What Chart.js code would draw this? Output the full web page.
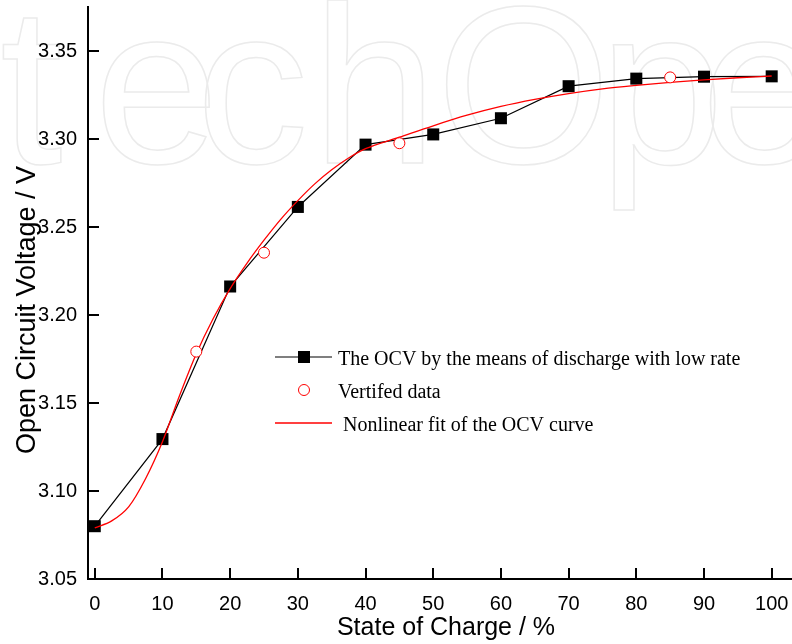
<!DOCTYPE html>
<html>
<head>
<meta charset="utf-8">
<title>OCV vs State of Charge</title>
<script src="https://cdn.jsdelivr.net/npm/chart.js@4.4.1/dist/chart.umd.min.js"></script>
<style>
    html, body { margin: 0; padding: 0; background: #fff; }
    canvas { display: block; }
</style>
</head>
<body>
<canvas id="ocvChart" width="792" height="644"></canvas>
<script>
// measured OCV (discharge with low rate)
const socPoints = [0, 10, 20, 30, 40, 50, 60, 70, 80, 90, 100];
const ocvValues = [3.080, 3.1295, 3.2162, 3.2614, 3.2968, 3.3026, 3.3118, 3.3300, 3.3343, 3.3354, 3.3356];

// verification points
const verifiedSoc = [15, 25, 45, 85];
const verifiedOcv = [3.1792, 3.2354, 3.2976, 3.3350];

// nonlinear fit curve
const fitSoc = [0, 2.5, 5, 7.5, 10, 12.5, 15, 17.5, 20, 22.5, 25, 27.5, 30, 32.5, 35, 37.5, 40, 45, 50, 55, 60, 65, 70, 75, 80, 85, 90, 95, 100];
const fitOcv = [3.079, 3.083, 3.091, 3.107, 3.128, 3.154, 3.178, 3.198, 3.215, 3.2295, 3.2425, 3.2545, 3.2650, 3.2745, 3.2825, 3.2892, 3.2945, 3.3010, 3.3075, 3.3135, 3.3185, 3.3225, 3.3258, 3.3285, 3.3305, 3.3322, 3.3336, 3.3348, 3.3358];

const seriesLabels = [
    'The OCV by the means of discharge with low rate',
    'Vertifed data',
    'Nonlinear fit of the OCV curve'
];

const xTicks = [0, 10, 20, 30, 40, 50, 60, 70, 80, 90, 100];
const yTicks = [3.05, 3.10, 3.15, 3.20, 3.25, 3.30, 3.35];
const xTitle = 'State of Charge / %';
const yTitle = 'Open Circuit Voltage / V';

const sans = '"Liberation Sans", Arial, Helvetica, sans-serif';
const serif = '"Liberation Serif", "Times New Roman", serif';

// faint publisher watermark behind the plot
const watermark = {
    id: 'watermark',
    beforeDraw(chart) {
        const ctx = chart.ctx;
        ctx.save();
        ctx.font = '225px ' + sans;
        ctx.strokeStyle = '#ebebeb';
        ctx.lineWidth = 1.5;
        const letters = [['t', 0], ['e', 94], ['c', 196], ['h', 312], ['O', 436], ['p', 599], ['e', 701]];
        letters.forEach(([ch, x]) => ctx.strokeText(ch, x, 163));
        ctx.restore();
    }
};

// inward tick marks + axis titles
const axisDecor = {
    id: 'axisDecor',
    afterDraw(chart) {
        const { ctx, chartArea } = chart;
        const xs = chart.scales.x, ys = chart.scales.y;
        ctx.save();
        ctx.strokeStyle = '#000';
        ctx.lineWidth = 2;
        ctx.beginPath();
        xs.ticks.forEach(t => {
            const px = Math.round(xs.getPixelForValue(t.value));
            ctx.moveTo(px, chartArea.bottom);
            ctx.lineTo(px, chartArea.bottom - 11);
        });
        ys.ticks.forEach(t => {
            const py = Math.round(ys.getPixelForValue(t.value));
            ctx.moveTo(chartArea.left, py);
            ctx.lineTo(chartArea.left + 11, py);
        });
        ctx.stroke();

        ctx.fillStyle = '#000';
        ctx.textBaseline = 'alphabetic';
        ctx.textAlign = 'center';
        ctx.font = '25px ' + sans;
        ctx.fillText(xTitle, 446, 635);

        ctx.translate(35, 310);
        ctx.rotate(-Math.PI / 2);
        ctx.font = '27px ' + sans;
        ctx.fillText(yTitle, 0, 0);
        ctx.restore();
    }
};

// legend drawn inside the plot area
const innerLegend = {
    id: 'innerLegend',
    afterDraw(chart) {
        const ctx = chart.ctx;
        const rows = [
            { y: 357, textX: 338 },
            { y: 390, textX: 338 },
            { y: 423, textX: 343 }
        ];
        ctx.save();
        ctx.font = '20px ' + serif;
        ctx.fillStyle = '#000';
        ctx.textBaseline = 'alphabetic';
        ctx.textAlign = 'left';

        // row 1: black line with square
        ctx.strokeStyle = '#000';
        ctx.lineWidth = 1.2;
        ctx.beginPath();
        ctx.moveTo(275, rows[0].y);
        ctx.lineTo(332, rows[0].y);
        ctx.stroke();
        ctx.fillRect(298, rows[0].y - 6, 12, 12);

        // row 2: open red circle
        ctx.strokeStyle = '#ff0000';
        ctx.lineWidth = 1;
        ctx.beginPath();
        ctx.arc(304, rows[1].y, 5.5, 0, Math.PI * 2);
        ctx.stroke();

        // row 3: red line
        ctx.lineWidth = 1.3;
        ctx.beginPath();
        ctx.moveTo(275, rows[2].y);
        ctx.lineTo(332, rows[2].y);
        ctx.stroke();

        rows.forEach((r, i) => ctx.fillText(seriesLabels[i], r.textX, r.y + 8));
        ctx.restore();
    }
};

const toPoints = (xs, ys) => xs.map((x, i) => ({ x: x, y: ys[i] }));

new Chart(document.getElementById('ocvChart'), {
    type: 'scatter',
    data: {
        datasets: [
            {
                label: seriesLabels[2],
                data: toPoints(fitSoc, fitOcv),
                showLine: true,
                borderColor: '#ff0000',
                borderWidth: 1.3,
                pointRadius: 0,
                cubicInterpolationMode: 'monotone',
                order: 1
            },
            {
                label: seriesLabels[0],
                data: toPoints(socPoints, ocvValues),
                showLine: true,
                borderColor: '#000',
                backgroundColor: '#000',
                borderWidth: 1.2,
                pointStyle: 'rect',
                pointRadius: 8.5,
                pointBorderWidth: 0,
                order: 2
            },
            {
                label: seriesLabels[1],
                data: toPoints(verifiedSoc, verifiedOcv),
                showLine: false,
                borderColor: '#ff0000',
                backgroundColor: '#fff',
                pointStyle: 'circle',
                pointRadius: 5.5,
                pointBorderWidth: 1,
                order: 0
            }
        ]
    },
    options: {
        responsive: false,
        animation: false,
        devicePixelRatio: 1,
        layout: { autoPadding: false, padding: { top: 7, right: 0, bottom: 0, left: 0 } },
        plugins: {
            legend: { display: false },
            tooltip: { enabled: false }
        },
        scales: {
            x: {
                type: 'linear',
                min: -1,
                max: 103,
                afterBuildTicks: s => { s.ticks = xTicks.map(v => ({ value: v })); },
                afterFit: s => {
                    s.height = 65;
                    s.paddingLeft = 0; s.paddingRight = 0;
                },
                grid: { display: false, drawTicks: false },
                border: { display: true, color: '#000', width: 2 },
                ticks: {
                    padding: 13,
                    color: '#000',
                    font: { family: sans, size: 20 },
                    callback: v => String(v)
                }
            },
            y: {
                type: 'linear',
                min: 3.05,
                max: 3.375,
                afterBuildTicks: s => { s.ticks = yTicks.map(v => ({ value: v })); },
                afterFit: s => {
                    s.width = 88;
                    s.paddingTop = 0; s.paddingBottom = 0;
                },
                grid: { display: false, drawTicks: false },
                border: { display: true, color: '#000', width: 2 },
                ticks: {
                    padding: 11,
                    color: '#000',
                    font: { family: sans, size: 20 },
                    callback: v => Number(v).toFixed(2)
                }
            }
        }
    },
    plugins: [watermark, axisDecor, innerLegend]
});
</script>
</body>
</html>
